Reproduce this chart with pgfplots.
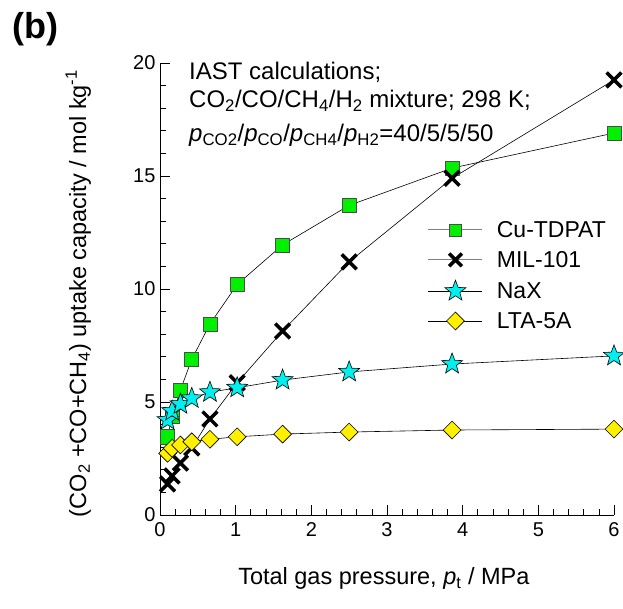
\documentclass[border=0pt]{standalone}
\usepackage{fontspec}
\setmainfont{Liberation Sans}
\usepackage{pgfplots}
\pgfplotsset{compat=1.18}

% filled five-pointed star
\pgfdeclareplotmark{fstar}{%
  \pgfpathmoveto{\pgfpointpolar{90}{\pgfplotmarksize}}%
  \pgfpathlineto{\pgfpointpolar{126}{0.42\pgfplotmarksize}}%
  \pgfpathlineto{\pgfpointpolar{162}{\pgfplotmarksize}}%
  \pgfpathlineto{\pgfpointpolar{198}{0.42\pgfplotmarksize}}%
  \pgfpathlineto{\pgfpointpolar{234}{\pgfplotmarksize}}%
  \pgfpathlineto{\pgfpointpolar{270}{0.42\pgfplotmarksize}}%
  \pgfpathlineto{\pgfpointpolar{306}{\pgfplotmarksize}}%
  \pgfpathlineto{\pgfpointpolar{342}{0.42\pgfplotmarksize}}%
  \pgfpathlineto{\pgfpointpolar{18}{\pgfplotmarksize}}%
  \pgfpathlineto{\pgfpointpolar{54}{0.42\pgfplotmarksize}}%
  \pgfpathclose
  \pgfusepathqfillstroke
}

\definecolor{cugreen}{RGB}{0,240,0}
\definecolor{naxcyan}{RGB}{0,240,240}
\definecolor{ltayellow}{RGB}{255,240,0}

\newcommand{\legfont}{\fontsize{23}{27}\selectfont}

\pgfplotsset{
  % legend sample: line in the given colour, marker in the middle
  legline/.style={legend image code/.code={%
    \draw[#1,line width=0.8pt] (0pt,0pt) -- (54pt,0pt);
    \draw[mark repeat=2,mark phase=2,##1,draw=none] plot coordinates {(0pt,0pt) (27pt,0pt) (54pt,0pt)};}},
}

\begin{document}
\begin{tikzpicture}[x=1pt,y=1pt]
\path[use as bounding box] (0,0) rectangle (623,609);
\begin{axis}[
  at={(160pt,94pt)}, anchor=south west,
  scale only axis, width=454pt, height=452pt,
  xmin=0, xmax=6, ymin=0, ymax=20,
  axis x line*=bottom, axis y line*=left,
  axis line style={line width=0.8pt},
  xtick={0,1,...,6}, ytick={0,5,...,20},
  minor x tick num=4, minor y tick num=4,
  tick align=inside,
  major tick length=10pt, minor tick length=6pt,
  tick style={line width=0.7pt, black},
  /pgf/number format/assume math mode=true,
  ticklabel style={font=\fontsize{20}{24}\selectfont},
  xticklabel style={yshift=-4pt},
  yticklabel style={xshift=-1pt},
  label style={font=\fontsize{23.5}{28}\selectfont},
  xlabel={Total gas pressure, \textit{p}\textsubscript{t} / MPa},
  xlabel style={at={(axis description cs:0.493,-0.14)}, anchor=center},
  ylabel={(CO\textsubscript{2} +CO+CH\textsubscript{4}) uptake capacity / mol kg\textsuperscript{-1}},
  ylabel style={at={(axis description cs:-0.18,0.49)}, anchor=center},
  legend style={draw=none, fill=none, at={(axis description cs:0.590,0.653)},
    anchor=north west, font=\legfont,
    row sep=10.5pt, inner sep=0pt,
    nodes={inner xsep=0pt, inner ysep=1pt},
    /tikz/every odd column/.append style={column sep=14pt}},
  legend cell align=left,
  every axis plot/.append style={line width=0.6pt, black},
  clip=false,
]
% Cu-TDPAT
\addplot[mark=square*, mark size=7pt, mark options={fill=cugreen, draw=black!70, line width=0.6pt},
  legline=gray, legend image post style={mark size=6pt}]
coordinates {(0.1,3.46) (0.16,4.35) (0.27,5.53) (0.42,6.89) (0.66,8.45) (1.02,10.2) (1.62,11.95) (2.5,13.7) (3.86,15.35) (6,16.9)};
\addlegendentry{Cu-TDPAT}
% MIL-101
\addplot[mark=x, mark size=10.5pt, mark options={line width=3.5pt, black},
  legline=gray, legend image post style={mark size=9pt}]
coordinates {(0.1,1.37) (0.16,1.73) (0.27,2.3) (0.42,2.97) (0.66,4.25) (1.02,5.85) (1.62,8.14) (2.5,11.2) (3.86,14.9) (6,19.25)};
\addlegendentry{MIL-101}
% NaX
\addplot[mark=fstar, mark size=11pt, mark options={fill=naxcyan, draw=black, line width=0.6pt},
  legline=black]
coordinates {(0.1,4.2) (0.16,4.6) (0.27,4.9) (0.42,5.16) (0.66,5.43) (1.02,5.63) (1.62,5.97) (2.5,6.33) (3.86,6.68) (6,7.04)};
\addlegendentry{NaX}
% LTA-5A
\addplot[mark=square*, mark size=6.3pt, mark options={rotate=45, fill=ltayellow, draw=black, line width=0.6pt},
  legline=black]
coordinates {(0.1,2.73) (0.16,2.95) (0.27,3.1) (0.42,3.24) (0.66,3.35) (1.02,3.46) (1.62,3.58) (2.5,3.67) (3.86,3.76) (6,3.8)};
\addlegendentry{LTA-5A}
\end{axis}
% panel tag and conditions
\node[anchor=north west, inner sep=0pt, font=\fontsize{36}{40}\selectfont\bfseries] at (12,597) {(b)};
\begin{scope}[every node/.style={anchor=base west, inner sep=0pt, font=\fontsize{24}{28}\selectfont}]
\node at (189,529.7) {IAST calculations;};
\node at (189,501.3) {CO\textsubscript{2}/CO/CH\textsubscript{4}/H\textsubscript{2} mixture; 298 K;};
\node at (189,467) {\textit{p}\textsubscript{CO2}/\textit{p}\textsubscript{CO}/\textit{p}\textsubscript{CH4}/\textit{p}\textsubscript{H2}=40/5/5/50};
\end{scope}
\end{tikzpicture}
\end{document}
